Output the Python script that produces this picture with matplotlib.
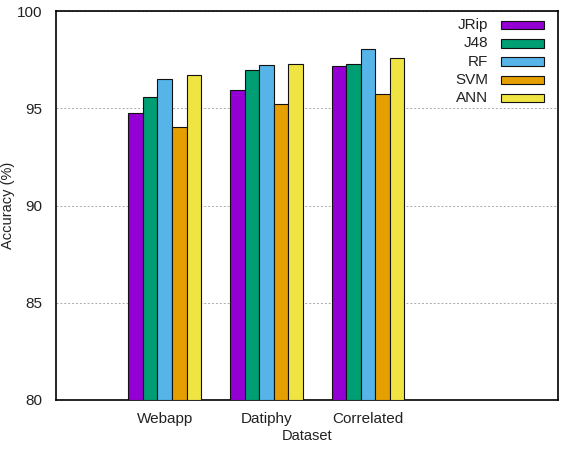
import matplotlib
matplotlib.use("Agg")
import matplotlib.pyplot as plt
from matplotlib.patches import Rectangle
import numpy as np

plt.rcParams['font.family'] = ['Liberation Sans', 'DejaVu Sans']

datasets = ["Webapp", "Datiphy", "Correlated"]
classifiers = ["JRip", "J48", "RF", "SVM", "ANN"]
jrip = [94.75, 95.95, 97.15]
j48 = [95.6, 96.95, 97.25]
rf = [96.5, 97.2, 98.03]
svm = [94.03, 95.2, 95.72]
ann = [96.7, 97.25, 97.6]
colors = ["#9400d3", "#009e73", "#56b4e9", "#e69f00", "#f0e442"]

series = [jrip, j48, rf, svm, ann]

fig = plt.figure(figsize=(5.65, 4.53), dpi=100)
ax = fig.add_axes([0.0991, 0.117, 0.8885, 0.8587])

x = np.arange(len(datasets))
w = 1.0 / 7
for i, (vals, c) in enumerate(zip(series, colors)):
    ax.bar(x + (i - 2) * w, np.array(vals) - 80, width=w, bottom=80,
           color=c, edgecolor="#111111", linewidth=0.8, zorder=3)

ax.set_ylim(80, 100)
ax.set_xlim(-1.07, 3.87)
ax.set_yticks([80, 85, 90, 95, 100])
ax.set_xticks(x)
ax.set_xticklabels(datasets)
ax.tick_params(length=0, labelsize=11, colors="#222222")
ax.tick_params(axis="y", pad=10)
ax.tick_params(axis="x", pad=9)
ax.yaxis.grid(True, linestyle=(0, (2, 2)), color="#aaaaaa", linewidth=0.7, zorder=0)
for s in ax.spines.values():
    s.set_linewidth(1.2)
ax.set_ylabel("Accuracy (%)", fontsize=10.5, color="#222222")
ax.yaxis.set_label_coords(-0.082, 0.5)
ax.set_xlabel("Dataset", fontsize=10.5, color="#222222", labelpad=2)

# legend, gnuplot style (label right-aligned, swatch to the right)
row_y = 0.964
for name, c in zip(classifiers, colors):
    ax.add_patch(Rectangle((0.886, row_y - 0.011), 0.086, 0.022,
                           transform=ax.transAxes, facecolor=c,
                           edgecolor="#111111", linewidth=0.8, zorder=4))
    ax.text(0.861, row_y, name, transform=ax.transAxes, ha="right",
            va="center", fontsize=11, color="#222222", zorder=4)
    row_y -= 0.047

fig.savefig("out.png", dpi=100)
